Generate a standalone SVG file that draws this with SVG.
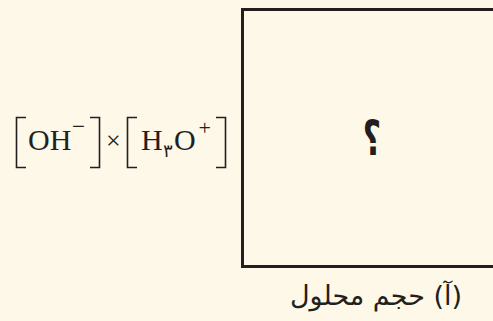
<svg xmlns="http://www.w3.org/2000/svg" width="493" height="321" viewBox="0 0 493 321">
<style>
.bg{fill:#fdf8e8}
.br{fill:none;stroke:#231f20;stroke-width:1.6}
.box{fill:none;stroke:#231f20;stroke-width:3}
.t{font-family:"Liberation Serif","DejaVu Serif",serif;fill:#231f20}
.fa{font-family:"DejaVu Sans","Noto Sans",sans-serif;fill:#231f20}
</style>
<rect class="bg" x="0" y="0" width="493" height="321"/>
<g id="formula">
<path class="br" d="M26,117.5 H16.5 V167.5 H26"/>
<path class="br" d="M90,117.5 H99.5 V167.5 H90"/>
<path class="br" d="M137,117.5 H127.5 V167.5 H137"/>
<path class="br" d="M216,117.5 H225.5 V167.5 H216"/>
<text class="t" x="28" y="150" font-size="30">OH</text>
<text class="t" x="72" y="133.5" font-size="23">−</text>
<text class="t" x="106" y="149" font-size="26">×</text>
<text class="t" x="141" y="150" font-size="30">H</text>
<text class="fa" x="163" y="157" font-size="18">۳</text>
<text class="t" x="174" y="150" font-size="30">O</text>
<text class="t" x="198.5" y="135" font-size="22">+</text>
</g>
<g id="box">
<path class="box" d="M493,9.5 H242.5 V266.5 H493"/>
<text class="fa" font-size="42" font-weight="bold" text-anchor="middle" transform="translate(372,155) scale(0.75,1.15)">؟</text>
</g>
<g id="label">
<text class="fa" x="376" y="305" font-size="27" text-anchor="middle" direction="rtl">(آ) حجم محلول</text>
</g>
</svg>
